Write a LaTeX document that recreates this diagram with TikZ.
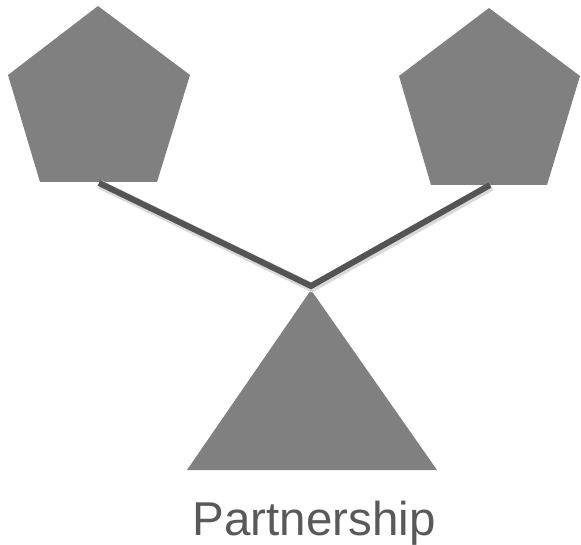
\documentclass[tikz,border=0pt]{standalone}
\usepackage{fontspec}
\setmainfont{Liberation Sans}
\begin{document}
\begin{tikzpicture}[x=1pt,y=-1pt,
  shapefill/.style={fill=black!50,draw=none},
  link/.style={draw=black!67,line width=6pt,line cap=butt,line join=miter},
  linkshadow/.style={draw=black!15,line width=9pt,line join=miter},
  caption/.style={text=black!65,font=\fontsize{47.5}{50}\selectfont,inner sep=0pt,anchor=base}]
\useasboundingbox (0,0) rectangle (581,545);
% left pentagon
\fill[shapefill] (98,6) -- (190,75) -- (157,182) -- (40,182) -- (8,75) -- cycle;
% right pentagon
\fill[shapefill] (489,8) -- (580,76) -- (547,185) -- (431,185) -- (399,76) -- cycle;
% triangle
\fill[shapefill] (311,290) -- (437,470) -- (187,470) -- cycle;
\coordinate (L) at (99,183);
\coordinate (J) at (311,286);
\coordinate (R) at (490,185);
\draw[linkshadow] ([shift={(1,1.5)}]L) -- ([shift={(1,1.5)}]J) -- ([shift={(1,1.5)}]R);
\draw[link] (L) -- (J) -- (R);
\node[caption] (cap) at (314,535) {Partnership};
\end{tikzpicture}
\end{document}
